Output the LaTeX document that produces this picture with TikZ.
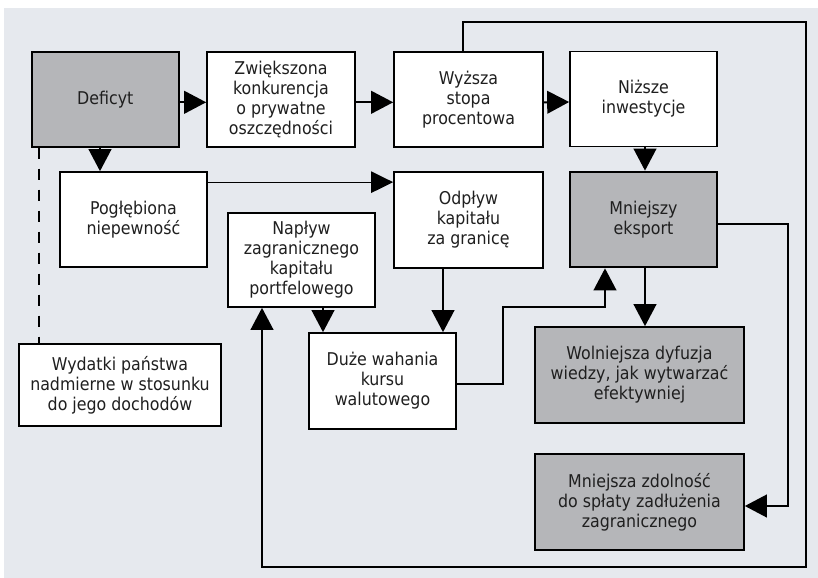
\documentclass[tikz,border=0pt]{standalone}
\usepackage{fontspec}
\setmainfont{DejaVu Sans Condensed}
\usetikzlibrary{arrows.meta,calc}

\definecolor{panel}{HTML}{E6E9EE}
\definecolor{shade}{HTML}{B5B6B9}

\tikzset{
  sz/.style 2 args={minimum width=#1*0.75pt, minimum height=#2*0.75pt},
  box/.style={draw=black, line width=1.25pt, fill=white, align=center,
    inner sep=2pt, font=\fontsize{13.2}{15}\selectfont, text=black!88},
  grey/.style={box, fill=shade},
  arr/.style={line width=1.5pt, -{Triangle[length=16.5pt,width=17pt]}},
}

\begin{document}
\begin{tikzpicture}[x=0.75pt, y=-0.75pt]
\useasboundingbox (0,0) rectangle (818,578);
\fill[panel] (4,8) rectangle (818,578);

% top row
\node[grey, sz={147}{95}] (def) at (105.3,99.3) {Deficyt};
\node[box, sz={148}{95}] (zwi) at (281,99.3) {Zwiększona\\konkurencja\\o prywatne\\oszczędności};
\node[box, sz={149}{95}] (wyz) at (468.5,99.3) {Wyższa\\stopa\\procentowa};
\node[box, sz={147}{95}] (niz) at (643.5,99) {Niższe\\inwestycje};

% second row
\node[box, sz={147}{95}] (pog) at (133.5,219.5) {Pogłębiona\\niepewność};
\node[box, sz={149}{96}] (odp) at (468.5,220) {Odpływ\\kapitału\\za granicę};
\node[grey, line width=2pt, sz={147}{95}] (mex) at (643.5,219.5) {Mniejszy\\eksport};

% lower part
\node[box, sz={147}{94}] (nap) at (301.5,260) {Napływ\\zagranicznego\\kapitału\\portfelowego};
\node[box, sz={202}{82}] (wyd) at (120,385) {Wydatki państwa\\nadmierne w stosunku\\do jego dochodów};
\node[box, sz={147}{96}] (duz) at (382.5,381) {Duże wahania\\kursu\\walutowego};
\node[grey, sz={209}{96}] (wol) at (639.5,375) {Wolniejsza dyfuzja\\wiedzy, jak wytwarzać\\efektywniej};
\node[grey, sz={209}{96}] (mzd) at (639.5,502) {Mniejsza zdolność\\do spłaty zadłużenia\\zagranicznego};

% attachment points on box edges
\coordinate (pogIn)  at ($(pog.north)+(-33.5,0)$);
\coordinate (dashTop) at ($(def.south west)+(8.3,0)$);
\coordinate (odpOut) at ($(odp.south)+(-25.5,0)$);
\coordinate (napOut) at ($(nap.south)+(21.5,0)$);
\coordinate (mexIn)  at ($(mex.south)+(-38.5,0)$);
\coordinate (mexOut) at ($(mex.south)+(1.5,0)$);
\coordinate (napIn)  at ($(nap.south)+(-39.5,0)$);
\coordinate (wyzOut) at ($(wyz.north)+(-5.5,0)$);

% bend points of the routed connectors
\coordinate (kink) at (503,307);
\coordinate (ltr) at (806,22);
\coordinate (lbr) at (806,567);

% top-row chain
\draw[arr] ($(def.east)+(0,3)$) -- ($(zwi.west)+(0,3)$);
\draw[arr] ($(zwi.east)+(0,3)$) -- ($(wyz.west)+(0,3)$);
\draw[arr] ($(wyz.east)+(0,3)$) -- ($(niz.west)+(0,3)$);
\draw[arr] ($(niz.south)+(1.5,0)$) -- ($(mex.north)+(1.5,0)$);

% deficit consequences
\draw[arr] (pogIn |- def.south) -- (pogIn);
\draw[line width=1pt, -{Triangle[length=16.5pt,width=16pt]}]
  ($(pog.north east)+(0,11)$) -- ($(odp.north west)+(0,11)$);
\draw[line width=1.5pt, dash pattern=on 8.25pt off 7.5pt]
  (dashTop) -- (dashTop |- wyd.north);

% capital flows and exchange rate
\draw[arr] (odpOut) -- (odpOut |- duz.north);
\draw[arr] (napOut) -- (napOut |- duz.north);
\draw[arr] ($(duz.east)+(0,3)$) -| (kink) -| (mexIn);

% export consequences
\draw[arr] (mexOut) -- (mexOut |- wol.north);
\draw[arr] ($(mex.east)+(0,4.5)$) -| ($(mzd.east)+(43,4)$) -- ($(mzd.east)+(0,4)$);

% feedback loop from the interest rate to portfolio inflows
\draw[arr] (wyzOut) |- (ltr) -- (lbr) -| (napIn);
\end{tikzpicture}
\end{document}
